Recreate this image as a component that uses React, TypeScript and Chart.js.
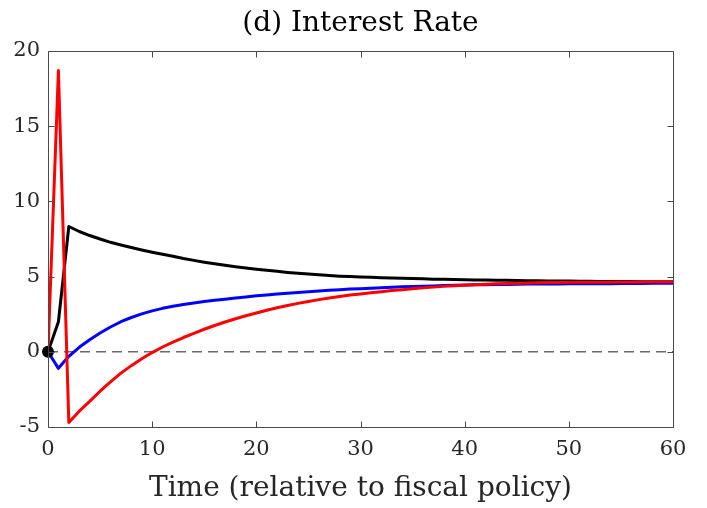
import React, { useEffect, useRef } from "react";
import { Chart, registerables } from "chart.js";

Chart.register(...registerables);

const periods = [
  0, 1, 2, 3, 4, 5, 6, 7, 8, 9, 10, 11, 12, 13, 14, 15, 16, 17, 18, 19, 20,
  21, 22, 23, 24, 25, 26, 27, 28, 29, 30, 31, 32, 33, 34, 35, 36, 37, 38, 39, 40,
  41, 42, 43, 44, 45, 46, 47, 48, 49, 50, 51, 52, 53, 54, 55, 56, 57, 58, 59, 60,
];

const seriesBlack = [
  0, 2.0, 8.33, 8.0, 7.73, 7.5, 7.28, 7.1, 6.93, 6.77, 6.62,
  6.48, 6.35, 6.2, 6.08, 5.96, 5.85, 5.75, 5.66, 5.57, 5.49,
  5.42, 5.35, 5.28, 5.22, 5.17, 5.12, 5.07, 5.03, 5.0, 4.97,
  4.95, 4.93, 4.91, 4.89, 4.87, 4.85, 4.83, 4.82, 4.8, 4.79,
  4.78, 4.77, 4.76, 4.75, 4.74, 4.73, 4.72, 4.71, 4.7, 4.7,
  4.69, 4.69, 4.68, 4.68, 4.67, 4.67, 4.66, 4.66, 4.65, 4.65,
];

const seriesBlue = [
  0, -1.1, -0.3, 0.3, 0.8, 1.25, 1.65, 2.0, 2.28, 2.52, 2.72,
  2.89, 3.03, 3.15, 3.25, 3.34, 3.42, 3.5, 3.58, 3.65, 3.72,
  3.78, 3.84, 3.9, 3.95, 4.0, 4.05, 4.09, 4.13, 4.17, 4.2,
  4.23, 4.26, 4.29, 4.32, 4.34, 4.36, 4.38, 4.4, 4.42, 4.44,
  4.45, 4.46, 4.47, 4.48, 4.49, 4.5, 4.5, 4.51, 4.51, 4.52,
  4.52, 4.53, 4.53, 4.53, 4.54, 4.54, 4.54, 4.55, 4.55, 4.55,
];

const seriesRed = [
  0, 18.7, -4.7, -3.95, -3.3, -2.62, -2.0, -1.42, -0.92, -0.46, -0.05,
  0.32, 0.64, 0.95, 1.23, 1.5, 1.75, 1.98, 2.2, 2.4, 2.58,
  2.76, 2.93, 3.08, 3.22, 3.35, 3.47, 3.58, 3.68, 3.77, 3.85,
  3.93, 4.0, 4.07, 4.13, 4.19, 4.25, 4.3, 4.35, 4.39, 4.43,
  4.46, 4.49, 4.52, 4.54, 4.56, 4.58, 4.59, 4.6, 4.61, 4.62,
  4.62, 4.63, 4.63, 4.63, 4.64, 4.64, 4.64, 4.65, 4.65, 4.65,
];

const zeroLineX = [0, 60];
const zeroLineY = [0, 0];
const startPoint = { x: 0, y: 0 };

const xTickRange = { min: 0, max: 60, step: 10 };
const yTickRange = { min: -5, max: 20, step: 5 };

const titleText = "(d) Interest Rate";
const xAxisTitle = "Time (relative to fiscal policy)";

const FONT = "'DejaVu Serif', 'Liberation Serif', serif";
const AXIS_COLOR = "#4a4a4a";
const TEXT_COLOR = "#262626";

const toPoints = (xs: number[], ys: number[]) => xs.map((x, i) => ({ x, y: ys[i] }));

const titlePlugin = {
  id: "centeredTitle",
  afterDraw(chart: any) {
    const { ctx, chartArea } = chart;
    ctx.save();
    ctx.fillStyle = "#000000";
    ctx.font = `normal 28px ${FONT}`;
    ctx.textAlign = "center";
    ctx.textBaseline = "middle";
    ctx.fillText(titleText, (chartArea.left + chartArea.right) / 2, 24);
    ctx.restore();
  },
};

const boxPlugin = {
  id: "matlabBox",
  afterDraw(chart: any) {
    const { ctx, chartArea } = chart;
    const { left, right, top, bottom } = chartArea;
    const xs = chart.scales.x;
    const ys = chart.scales.y;
    const L = Math.round(left) + 0.5;
    const R = Math.round(right) + 0.5;
    const T = Math.round(top) + 0.5;
    const B = Math.round(bottom) + 0.5;
    const tl = 6;
    ctx.save();
    ctx.strokeStyle = AXIS_COLOR;
    ctx.lineWidth = 1;
    ctx.beginPath();
    ctx.rect(L, T, R - L, B - T);
    xs.ticks.forEach((t: any) => {
      const px = Math.round(xs.getPixelForValue(t.value)) + 0.5;
      ctx.moveTo(px, B);
      ctx.lineTo(px, B - tl);
      ctx.moveTo(px, T);
      ctx.lineTo(px, T + tl);
    });
    ys.ticks.forEach((t: any) => {
      const py = Math.round(ys.getPixelForValue(t.value)) + 0.5;
      ctx.moveTo(L, py);
      ctx.lineTo(L + tl, py);
      ctx.moveTo(R, py);
      ctx.lineTo(R - tl, py);
    });
    ctx.stroke();
    ctx.restore();
  },
};

export default function App() {
  const canvasRef = useRef<HTMLCanvasElement | null>(null);

  useEffect(() => {
    if (!canvasRef.current) return;
    const lineStyle = {
      borderWidth: 3,
      pointRadius: 0,
      fill: false,
      tension: 0,
      borderJoinStyle: "round" as const,
      borderCapStyle: "round" as const,
    };
    const chart = new Chart(canvasRef.current, {
      type: "line",
      data: {
        datasets: [
          {
            label: "start",
            data: [startPoint],
            showLine: false,
            pointRadius: 6,
            pointBackgroundColor: "#000000",
            pointBorderColor: "#000000",
            pointBorderWidth: 0,
            clip: false,
          },
          { label: "red", data: toPoints(periods, seriesRed), borderColor: "#ff0000", ...lineStyle },
          { label: "blue", data: toPoints(periods, seriesBlue), borderColor: "#0000ff", ...lineStyle },
          { label: "black", data: toPoints(periods, seriesBlack), borderColor: "#000000", ...lineStyle },
          {
            label: "zero",
            data: toPoints(zeroLineX, zeroLineY),
            borderColor: "#6a6a6a",
            borderWidth: 1.5,
            borderDash: [10, 6],
            pointRadius: 0,
          },
        ],
      },
      options: {
        responsive: false,
        animation: false,
        layout: { padding: { left: 0, right: 34, top: 51, bottom: 0 } },
        plugins: {
          legend: { display: false },
          tooltip: { enabled: false },
          title: { display: false },
        },
        scales: {
          x: {
            type: "linear",
            min: xTickRange.min,
            max: xTickRange.max,
            grid: { display: false, drawTicks: false },
            border: { display: false },
            ticks: {
              stepSize: xTickRange.step,
              color: TEXT_COLOR,
              font: { family: FONT, size: 21 },
              padding: 10,
              maxRotation: 0,
            },
            title: {
              display: true,
              text: xAxisTitle,
              color: TEXT_COLOR,
              font: { family: FONT, size: 28 },
              padding: { top: 0, bottom: 2 },
            },
            afterFit: (s: any) => {
              s.height = 81;
            },
          },
          y: {
            type: "linear",
            min: yTickRange.min,
            max: yTickRange.max,
            grid: { display: false, drawTicks: false },
            border: { display: false },
            ticks: {
              stepSize: yTickRange.step,
              color: TEXT_COLOR,
              font: { family: FONT, size: 21 },
              padding: 8,
            },
            afterFit: (s: any) => {
              s.width = 48;
            },
          },
        },
      },
      plugins: [boxPlugin, titlePlugin],
    });
    return () => chart.destroy();
  }, []);

  return (
    <div style={{ position: "absolute", left: 0, top: 0, width: 707, height: 508, background: "#fff" }}>
      <canvas ref={canvasRef} width={707} height={508} style={{ display: "block" }} />
    </div>
  );
}
